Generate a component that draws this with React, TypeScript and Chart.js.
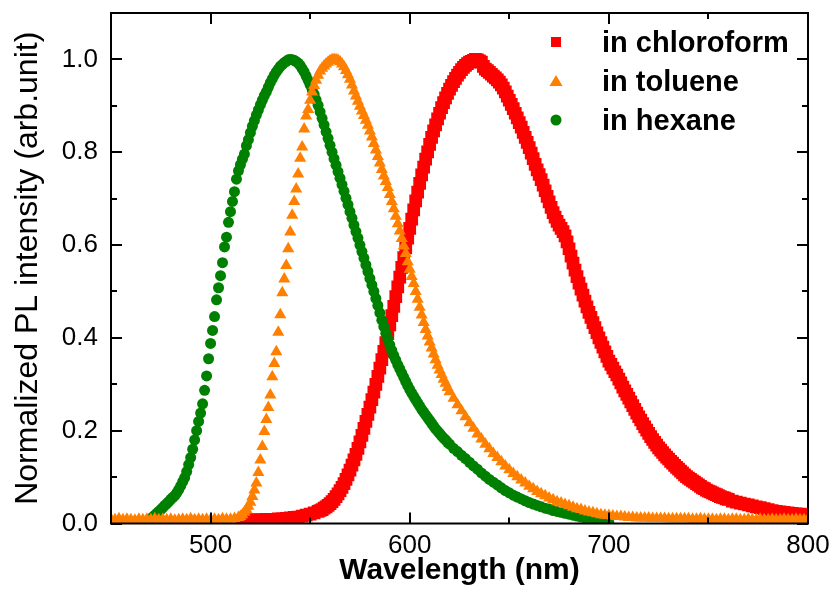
import { useEffect, useRef } from 'react';
import { Chart, registerables } from 'chart.js';

Chart.register(...registerables);

const FONT = "'Liberation Sans', Arial, sans-serif";

// Photoluminescence spectra, normalized to peak intensity
const seriesLabels = ['in chloroform', 'in toluene', 'in hexane'];

const xTickLabels = [500, 600, 700, 800];
const xMinorTicks = [550, 650, 750];
const yTickLabels = [0, 0.2, 0.4, 0.6, 0.8, 1.0];
const yMinorTicks = [0.1, 0.3, 0.5, 0.7, 0.9];

// in chloroform
const chloroformNm = [
  516, 518, 520, 522, 524, 526, 528, 530, 532, 534, 536, 538, 540, 542, 544, 546, 548, 550, 552, 554,
  555, 556, 557, 558, 559, 560, 561, 562, 563, 564, 565, 566, 567, 568, 569, 570, 571, 572, 573, 574,
  575, 576, 577, 578, 579, 580, 581, 582, 583, 584, 585, 586, 587, 588, 589, 590, 591, 592, 593, 594,
  595, 596, 597, 598, 599, 600, 601, 602, 603, 604, 605, 606, 607, 608, 609, 610, 611, 612, 613, 614,
  615, 616, 617, 618, 619, 620, 621, 622, 623, 624, 625, 626, 627, 628, 629, 630, 631, 632, 633, 634,
  635, 636, 637, 638, 639, 640, 641, 642, 643, 644, 645, 646, 647, 648, 649, 650, 651, 652, 653, 654,
  655, 656, 657, 658, 659, 660, 661, 662, 663, 664, 665, 666, 667, 668, 669, 670, 671, 672, 673, 674,
  675, 676, 677, 678, 679, 680, 681, 682, 683, 684, 685, 686, 687, 688, 689, 690, 691, 692, 693, 694,
  695, 696, 697, 698, 699, 700, 701, 702, 703, 704, 705, 706, 707, 708, 709, 710, 711, 712, 713, 714,
  715, 716, 717, 718, 719, 720, 721, 722, 723, 724, 725, 726, 727, 728, 729, 730, 731, 732, 733, 734,
  735, 736, 737, 738, 739, 740, 741, 742, 743, 744, 745, 746, 747, 748, 749, 750, 751, 752, 753, 754,
  755, 756, 757, 758, 759, 760,
  762, 764, 766, 768, 770, 772, 774, 776, 778, 780, 782, 784, 786, 788, 790, 792, 794, 796, 798, 800,
];
const chloroformPL = [
  0.006, 0.007, 0.008, 0.008, 0.008, 0.008, 0.009, 0.009, 0.009, 0.010, 0.010, 0.011, 0.012, 0.013, 0.014, 0.016, 0.018, 0.020, 0.023, 0.026,
  0.028, 0.030, 0.033, 0.036, 0.039, 0.043, 0.047, 0.052, 0.058, 0.064, 0.071, 0.078, 0.086, 0.095, 0.105, 0.115, 0.126, 0.137, 0.149, 0.162,
  0.176, 0.190, 0.205, 0.220, 0.235, 0.251, 0.267, 0.283, 0.300, 0.317, 0.335, 0.353, 0.371, 0.390, 0.409, 0.428, 0.448, 0.468, 0.489, 0.510,
  0.531, 0.552, 0.573, 0.594, 0.615, 0.636, 0.656, 0.676, 0.695, 0.714, 0.733, 0.751, 0.768, 0.785, 0.801, 0.817, 0.832, 0.846, 0.859, 0.872,
  0.884, 0.896, 0.907, 0.917, 0.927, 0.936, 0.944, 0.952, 0.959, 0.966, 0.972, 0.978, 0.983, 0.987, 0.991, 0.994, 0.996, 0.998, 1.000, 0.999,
  0.997, 0.994, 0.985, 0.979, 0.976, 0.972, 0.968, 0.964, 0.960, 0.956, 0.951, 0.945, 0.938, 0.930, 0.921, 0.912, 0.903, 0.894, 0.884, 0.874,
  0.864, 0.854, 0.843, 0.832, 0.821, 0.810, 0.798, 0.786, 0.774, 0.762, 0.752, 0.741, 0.729, 0.717, 0.705, 0.693, 0.681, 0.670, 0.660, 0.651,
  0.643, 0.636, 0.629, 0.620, 0.607, 0.592, 0.576, 0.561, 0.546, 0.532, 0.518, 0.505, 0.492, 0.479, 0.467, 0.455, 0.444, 0.433, 0.422, 0.411,
  0.400, 0.390, 0.380, 0.370, 0.360, 0.350, 0.343, 0.335, 0.327, 0.320, 0.311, 0.303, 0.294, 0.286, 0.278, 0.270, 0.262, 0.254, 0.246, 0.238,
  0.230, 0.223, 0.215, 0.208, 0.201, 0.194, 0.187, 0.181, 0.175, 0.169, 0.163, 0.158, 0.153, 0.148, 0.143, 0.139, 0.134, 0.130, 0.125, 0.121,
  0.117, 0.113, 0.109, 0.105, 0.101, 0.098, 0.095, 0.092, 0.089, 0.086, 0.083, 0.080, 0.077, 0.075, 0.072, 0.070, 0.068, 0.066, 0.064, 0.062,
  0.060, 0.058, 0.056, 0.055, 0.053, 0.052,
  0.048, 0.046, 0.044, 0.042, 0.040, 0.038, 0.036, 0.034, 0.032, 0.030, 0.028, 0.026, 0.025, 0.024, 0.023, 0.022, 0.021, 0.020, 0.019, 0.018,
];

// in toluene
const tolueneNm = [
  450, 452, 454, 456, 458, 460, 462, 464, 466, 468, 470, 472, 474, 476, 478, 480, 482, 484, 486, 488,
  490, 492, 494, 496, 498, 500, 502, 504, 506, 508, 510, 512, 514,
  515, 516, 517, 518, 519, 520, 521, 522, 523, 524, 525, 526, 527, 528, 529, 530, 531, 532, 533, 534,
  535, 536, 537, 538, 539, 540, 541, 542, 543, 544, 545, 546, 547, 548, 549, 550, 551, 552, 553, 554,
  555, 556, 557, 558, 559, 560, 561, 562, 563, 564, 565, 566, 567, 568, 569, 570, 571, 572, 573, 574,
  575, 576, 577, 578, 579, 580, 581, 582, 583, 584, 585, 586, 587, 588, 589, 590, 591, 592, 593, 594,
  595, 596, 597, 598, 599, 600, 601, 602, 603, 604, 605, 606, 607, 608, 609, 610, 611, 612, 613, 614,
  615, 616, 617, 618, 619, 620,
  622, 624, 626, 628, 630, 632, 634, 636, 638, 640, 642, 644, 646, 648, 650, 652, 654, 656, 658, 660,
  662, 664, 666, 668, 670, 672, 674, 676, 678, 680, 682, 684, 686, 688, 690, 692, 694, 696, 698, 700,
  702, 704, 706, 708, 710, 712, 714, 716, 718, 720, 722, 724, 726, 728, 730, 732, 734, 736, 738, 740,
  742, 744, 746, 748, 750, 752, 754, 756, 758, 760, 762, 764, 766, 768, 770, 772, 774, 776, 778, 780,
  782, 784, 786, 788, 790, 792, 794, 796, 798, 800,
];
const toluenePL = [
  0.009, 0.008, 0.010, 0.008, 0.009, 0.008, 0.007, 0.009, 0.008, 0.009, 0.008, 0.010, 0.008, 0.009, 0.008, 0.009, 0.007, 0.008, 0.009, 0.008,
  0.010, 0.008, 0.009, 0.008, 0.009, 0.008, 0.009, 0.008, 0.010, 0.009, 0.009, 0.011, 0.013,
  0.015, 0.019, 0.024, 0.030, 0.037, 0.046, 0.058, 0.072, 0.087, 0.110, 0.137, 0.166, 0.198, 0.224, 0.250, 0.277, 0.316, 0.345, 0.370, 0.412,
  0.450, 0.497, 0.527, 0.556, 0.592, 0.628, 0.664, 0.694, 0.721, 0.753, 0.787, 0.811, 0.850, 0.878, 0.892, 0.912, 0.930, 0.944, 0.955, 0.966,
  0.975, 0.981, 0.986, 0.990, 0.994, 0.997, 0.999, 1.000, 0.999, 0.998, 0.995, 0.990, 0.984, 0.976, 0.967, 0.957, 0.945, 0.932, 0.921, 0.910,
  0.899, 0.889, 0.879, 0.869, 0.858, 0.846, 0.833, 0.819, 0.805, 0.791, 0.777, 0.763, 0.749, 0.737, 0.724, 0.709, 0.694, 0.678, 0.662, 0.646,
  0.630, 0.614, 0.598, 0.582, 0.564, 0.548, 0.532, 0.517, 0.500, 0.483, 0.466, 0.449, 0.433, 0.418, 0.404, 0.391, 0.378, 0.365, 0.353, 0.341,
  0.331, 0.321, 0.311, 0.302, 0.293, 0.284,
  0.270, 0.256, 0.243, 0.230, 0.217, 0.205, 0.193, 0.182, 0.171, 0.161, 0.151, 0.142, 0.133, 0.124, 0.116, 0.108, 0.101, 0.094, 0.087, 0.080,
  0.075, 0.069, 0.064, 0.060, 0.055, 0.051, 0.047, 0.044, 0.041, 0.038, 0.035, 0.032, 0.030, 0.027, 0.025, 0.023, 0.021, 0.019, 0.018, 0.017,
  0.016, 0.015, 0.015, 0.014, 0.013, 0.013, 0.012, 0.012, 0.012, 0.012, 0.011, 0.011, 0.011, 0.011, 0.010, 0.010, 0.010, 0.010, 0.010, 0.010,
  0.009, 0.009, 0.010, 0.009, 0.009, 0.009, 0.008, 0.009, 0.009, 0.008, 0.009, 0.009, 0.008, 0.008, 0.009, 0.008, 0.008, 0.009, 0.008, 0.008,
  0.009, 0.008, 0.008, 0.009, 0.008, 0.008, 0.009, 0.008, 0.008, 0.009,
];

// in hexane
const hexaneNm = [
  469, 470, 471, 472, 473, 474, 475, 476, 477, 478, 479, 480, 481, 482, 483, 484, 485, 486, 487, 488,
  489, 490, 491, 492, 493, 494, 495, 496, 497, 498, 499, 500, 501, 502, 503, 504, 505, 506, 507, 508,
  509, 510, 511, 512, 513, 514, 515, 516, 517, 518, 519, 520, 521, 522, 523, 524, 525, 526, 527, 528,
  529, 530, 531, 532, 533, 534, 535, 536, 537, 538, 539, 540,
  541, 542, 543, 544, 545, 546, 547, 548, 549, 550, 551, 552, 553, 554, 555, 556, 557, 558, 559, 560,
  561, 562, 563, 564, 565, 566, 567, 568, 569, 570, 571, 572, 573, 574, 575, 576, 577, 578, 579, 580,
  581, 582, 583, 584, 585, 586, 587, 588, 589, 590, 591, 592, 593, 594, 595, 596, 597, 598, 599, 600,
  601, 602, 603, 604, 605, 606, 607, 608, 609, 610, 611, 612, 613, 614, 615, 616, 617, 618, 619, 620,
  622, 624, 626, 628, 630, 632, 634, 636, 638, 640, 642, 644, 646, 648, 650, 652, 654, 656, 658, 660,
  662, 664, 666, 668, 670, 672, 674, 676, 678, 680, 682, 684, 686, 688, 690, 692, 694, 696, 698, 700,
];
const hexanePL = [
  0.005, 0.010, 0.014, 0.018, 0.022, 0.026, 0.030, 0.034, 0.039, 0.043, 0.047, 0.052, 0.056, 0.060, 0.066, 0.073, 0.081, 0.090, 0.099, 0.112,
  0.127, 0.142, 0.160, 0.180, 0.200, 0.220, 0.238, 0.258, 0.287, 0.318, 0.355, 0.388, 0.416, 0.446, 0.482, 0.508, 0.534, 0.562, 0.596, 0.617,
  0.649, 0.672, 0.694, 0.715, 0.742, 0.760, 0.773, 0.785, 0.796, 0.814, 0.827, 0.842, 0.856, 0.868, 0.880, 0.891, 0.902, 0.912, 0.922, 0.930,
  0.940, 0.950, 0.958, 0.966, 0.973, 0.979, 0.985, 0.989, 0.993, 0.996, 0.999, 1.000,
  0.999, 0.998, 0.995, 0.992, 0.987, 0.980, 0.973, 0.964, 0.955, 0.945, 0.935, 0.925, 0.913, 0.901, 0.887, 0.873, 0.859, 0.844, 0.830, 0.815,
  0.800, 0.786, 0.772, 0.758, 0.744, 0.730, 0.716, 0.701, 0.687, 0.672, 0.658, 0.643, 0.629, 0.615, 0.600, 0.586, 0.572, 0.557, 0.543, 0.528,
  0.514, 0.500, 0.485, 0.470, 0.454, 0.438, 0.424, 0.410, 0.397, 0.385, 0.373, 0.362, 0.352, 0.342, 0.333, 0.324, 0.315, 0.306, 0.297, 0.289,
  0.281, 0.274, 0.267, 0.260, 0.253, 0.246, 0.240, 0.234, 0.228, 0.222, 0.216, 0.210, 0.204, 0.199, 0.194, 0.189, 0.184, 0.180, 0.175, 0.171,
  0.162, 0.155, 0.147, 0.140, 0.132, 0.124, 0.117, 0.109, 0.102, 0.095, 0.089, 0.083, 0.077, 0.071, 0.066, 0.061, 0.057, 0.053, 0.049, 0.045,
  0.042, 0.039, 0.036, 0.033, 0.031, 0.028, 0.026, 0.024, 0.022, 0.020, 0.018, 0.016, 0.014, 0.012, 0.010, 0.008, 0.006, 0.005, 0.003, 0.002,
];

const COLORS = ['#ff0000', '#ff8000', '#008000'];
const STYLES = ['rect', 'triangle', 'circle'] as const;

const toPoints = (xs: number[], ys: number[]) => xs.map((x, i) => ({ x, y: ys[i] }));

// Closed frame with inward major/minor ticks on all four sides, plus the in-plot legend
const framePlugin = {
  id: 'frameAndLegend',
  afterDatasetsDraw(chart: any) {
    const { ctx, chartArea: a, scales } = chart;
    const xs = scales.x;
    const ys = scales.y;
    ctx.save();
    ctx.strokeStyle = '#000';
    ctx.lineWidth = 2;
    ctx.beginPath();
    const major = 11;
    const minor = 6;
    const xTick = (v: number, len: number) => {
      const px = Math.round(xs.getPixelForValue(v));
      ctx.moveTo(px, a.bottom);
      ctx.lineTo(px, a.bottom - len);
      ctx.moveTo(px, a.top);
      ctx.lineTo(px, a.top + len);
    };
    const yTick = (v: number, len: number) => {
      const py = Math.round(ys.getPixelForValue(v));
      ctx.moveTo(a.left, py);
      ctx.lineTo(a.left + len, py);
      ctx.moveTo(a.right, py);
      ctx.lineTo(a.right - len, py);
    };
    xTickLabels.forEach((v) => xTick(v, major));
    xMinorTicks.forEach((v) => xTick(v, minor));
    yTickLabels.forEach((v) => yTick(v, major));
    yMinorTicks.forEach((v) => yTick(v, minor));
    ctx.stroke();
    ctx.strokeRect(a.left, a.top, a.right - a.left, a.bottom - a.top);

    // legend
    const markerX = 556;
    const textX = 602;
    const rows = [42, 81, 120];
    ctx.font = `bold 29px ${FONT}`;
    ctx.textBaseline = 'middle';
    ctx.textAlign = 'left';
    seriesLabels.forEach((label, i) => {
      const cy = rows[i];
      ctx.fillStyle = COLORS[i];
      ctx.beginPath();
      if (i === 0) {
        ctx.rect(markerX - 5, cy - 5, 10, 10);
      } else if (i === 1) {
        ctx.moveTo(markerX, cy - 6);
        ctx.lineTo(markerX + 6.5, cy + 5);
        ctx.lineTo(markerX - 6.5, cy + 5);
        ctx.closePath();
      } else {
        ctx.arc(markerX, cy, 5.5, 0, Math.PI * 2);
      }
      ctx.fill();
      ctx.fillStyle = '#000';
      ctx.fillText(label, textX, cy + 2);
    });
    ctx.restore();
  },
};

const zeroPadding = (s: any) => {
  s.paddingLeft = 0;
  s.paddingRight = 0;
  s.paddingTop = 0;
  s.paddingBottom = 0;
};

export default function App() {
  const canvasRef = useRef<HTMLCanvasElement | null>(null);

  useEffect(() => {
    if (!canvasRef.current) return;
    const sets = [
      { nm: chloroformNm, pl: chloroformPL, radius: 9, order: 2 },
      { nm: tolueneNm, pl: toluenePL, radius: 7, order: 0 },
      { nm: hexaneNm, pl: hexanePL, radius: 5.5, order: 1 },
    ];
    const chart = new Chart(canvasRef.current, {
      type: 'scatter',
      data: {
        datasets: sets.map((s, i) => ({
          label: seriesLabels[i],
          data: toPoints(s.nm, s.pl),
          pointStyle: STYLES[i],
          pointRadius: s.radius,
          pointBorderWidth: 0,
          backgroundColor: COLORS[i],
          borderColor: COLORS[i],
          showLine: false,
          order: s.order,
          clip: 0,
        })),
      },
      options: {
        animation: false,
        responsive: true,
        maintainAspectRatio: false,
        layout: { padding: { top: 13, right: 25, left: 0, bottom: 0 } },
        plugins: {
          legend: { display: false },
          tooltip: { enabled: false },
        },
        scales: {
          x: {
            type: 'linear',
            min: 450,
            max: 800,
            afterBuildTicks: (s: any) => {
              s.ticks = xTickLabels.map((value) => ({ value }));
            },
            afterFit: (s: any) => {
              s.height = 78.5;
              zeroPadding(s);
            },
            grid: { display: false, drawTicks: false },
            border: { display: false },
            ticks: {
              color: '#000',
              font: { family: FONT, size: 26 },
              padding: 7,
              maxRotation: 0,
              autoSkip: false,
              callback: (v: any) => String(v),
            },
            title: {
              display: true,
              text: 'Wavelength (nm)',
              color: '#000',
              font: { family: FONT, size: 30, weight: 'bold' },
              padding: { top: 0, bottom: 13 },
            },
          },
          y: {
            type: 'linear',
            min: 0,
            max: 1.1,
            afterBuildTicks: (s: any) => {
              s.ticks = yTickLabels.map((value) => ({ value }));
            },
            afterFit: (s: any) => {
              s.width = 111;
              zeroPadding(s);
            },
            grid: { display: false, drawTicks: false },
            border: { display: false },
            ticks: {
              color: '#000',
              font: { family: FONT, size: 26 },
              padding: 13,
              autoSkip: false,
              callback: (v: any) => Number(v).toFixed(1),
            },
            title: {
              display: true,
              text: 'Normalized PL intensity (arb.unit)',
              color: '#000',
              font: { family: FONT, size: 32 },
              padding: { top: 9, bottom: 0 },
            },
          },
        },
      },
      plugins: [framePlugin],
    } as any);
    return () => chart.destroy();
  }, []);

  return (
    <div style={{ position: 'fixed', left: 0, top: 0, width: 833, height: 602, background: '#fff' }}>
      <canvas ref={canvasRef} />
    </div>
  );
}
